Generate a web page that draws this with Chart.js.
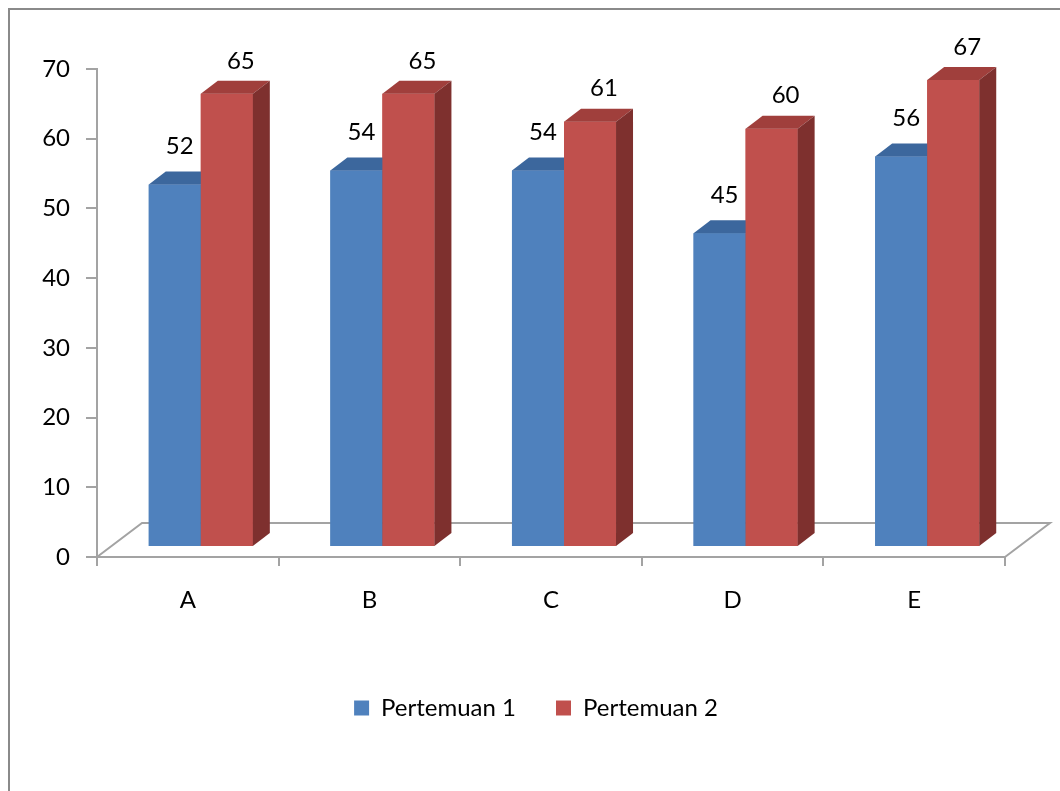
<!DOCTYPE html>
<html>
<head>
<meta charset="utf-8">
<title>Pertemuan 1 dan Pertemuan 2</title>
<script src="https://cdn.jsdelivr.net/npm/chart.js@4.4.1/dist/chart.umd.min.js"></script>
<style>
  html, body { margin: 0; padding: 0; background: #ffffff; }
  #wrap { position: relative; width: 1060px; height: 791px; }
</style>
</head>
<body>
<div id="wrap"><canvas id="chart"></canvas></div>
<script>
// Data
const categories = ['A', 'B', 'C', 'D', 'E'];
const pertemuan1 = [52, 54, 54, 45, 56];
const pertemuan2 = [65, 65, 61, 60, 67];
const yMin = 0;
const yMax = 70;
const yStep = 10;

// 3D look: bars sit a little behind the front edge of the floor
const SHIFT = { dx: 13, dy: -10 };   // bar plane offset from the axis plane
const DEPTH = { dx: 17, dy: -13 };   // bar depth
const FLOOR = { dx: 45, dy: -34 };   // floor depth
const LINE = '#a3a3a3';

const FONT = 'Lato, "Noto Sans", sans-serif';
Chart.defaults.font.family = FONT;
Chart.defaults.color = '#000000';

function drawFaces(ctx, ds, bar) {
  const p = bar.getProps(['x', 'y', 'base', 'width'], true);
  const l = p.x - p.width / 2, r = p.x + p.width / 2;
  // top face
  ctx.fillStyle = ds.topColor;
  ctx.beginPath();
  ctx.moveTo(l, p.y);
  ctx.lineTo(l + DEPTH.dx, p.y + DEPTH.dy);
  ctx.lineTo(r + DEPTH.dx, p.y + DEPTH.dy);
  ctx.lineTo(r, p.y);
  ctx.closePath();
  ctx.fill();
  // side face
  ctx.fillStyle = ds.sideColor;
  ctx.beginPath();
  ctx.moveTo(r, p.y);
  ctx.lineTo(r + DEPTH.dx, p.y + DEPTH.dy);
  ctx.lineTo(r + DEPTH.dx, p.base + DEPTH.dy);
  ctx.lineTo(r, p.base);
  ctx.closePath();
  ctx.fill();
}

const bars3d = {
  id: 'bars3d',
  beforeDraw(chart) {
    const ctx = chart.ctx;
    ctx.save();
    ctx.strokeStyle = '#8a8a8a';
    ctx.lineWidth = 2;
    ctx.beginPath();
    ctx.moveTo(9, chart.height + 10);
    ctx.lineTo(9, 9);
    ctx.lineTo(chart.width + 10, 9);
    ctx.stroke();
    ctx.restore();
  },
  beforeDatasetsDraw(chart) {
    const ctx = chart.ctx;
    const a = chart.chartArea;
    ctx.save();
    ctx.strokeStyle = LINE;
    ctx.lineWidth = 2;
    ctx.beginPath();
    ctx.moveTo(a.left, a.bottom);
    ctx.lineTo(a.left + FLOOR.dx, a.bottom + FLOOR.dy);
    ctx.lineTo(a.right + FLOOR.dx, a.bottom + FLOOR.dy);
    ctx.lineTo(a.right, a.bottom);
    ctx.stroke();
    ctx.restore();
    ctx.save();
    ctx.translate(SHIFT.dx, SHIFT.dy);
  },
  afterDatasetsDraw(chart) {
    const ctx = chart.ctx;
    // paint each category left to right so the right bar hides its neighbour's side
    chart.data.labels.forEach((_, j) => {
      chart.data.datasets.forEach((ds, i) => {
        const bar = chart.getDatasetMeta(i).data[j];
        bar.draw(ctx);
        drawFaces(ctx, ds, bar);
      });
    });
    ctx.restore();

    // value labels above the bars
    ctx.save();
    ctx.font = '24px ' + FONT;
    ctx.fillStyle = '#000000';
    ctx.textAlign = 'center';
    ctx.textBaseline = 'middle';
    chart.data.datasets.forEach((ds, i) => {
      const meta = chart.getDatasetMeta(i);
      meta.data.forEach((bar, j) => {
        const p = bar.getProps(['x', 'y'], true);
        ctx.fillText(String(ds.data[j]),
          p.x + SHIFT.dx + ds.labelShift.dx,
          p.y + SHIFT.dy + ds.labelShift.dy);
      });
    });
    ctx.restore();
  }
};

new Chart(document.getElementById('chart'), {
  type: 'bar',
  data: {
    labels: categories,
    datasets: [
      {
        label: 'Pertemuan 1',
        data: pertemuan1,
        backgroundColor: '#4F81BD',
        topColor: '#3c679d',
        sideColor: '#345a89',
        labelShift: { dx: 5, dy: -38 }
      },
      {
        label: 'Pertemuan 2',
        data: pertemuan2,
        backgroundColor: '#C0504D',
        topColor: '#a03f3c',
        sideColor: '#7e302e',
        labelShift: { dx: 14, dy: -33 }
      }
    ]
  },
  options: {
    responsive: true,
    maintainAspectRatio: false,
    animation: false,
    events: [],
    datasets: {
      bar: { barPercentage: 1, categoryPercentage: 0.573, borderWidth: 0, clip: false }
    },
    layout: { padding: { left: 12, right: 0, top: 69, bottom: 61 } },
    scales: {
      x: {
        grid: {
          offset: true,
          drawOnChartArea: false,
          drawTicks: true,
          tickLength: 9,
          color: LINE,
          lineWidth: 2
        },
        border: { display: true, color: LINE, width: 2 },
        ticks: { font: { size: 24 }, color: '#000000', padding: 20 },
        afterFit(s) { s.height = 99; }
      },
      y: {
        min: yMin,
        max: yMax,
        grid: {
          drawOnChartArea: false,
          drawTicks: true,
          tickLength: 11,
          color: LINE,
          lineWidth: 2
        },
        border: { display: true, color: LINE, width: 2 },
        ticks: { stepSize: yStep, font: { size: 24 }, color: '#000000', padding: 16 },
        afterFit(s) { s.width = 85; }
      },
      yRight: {
        position: 'right',
        grid: { display: false },
        border: { display: false },
        ticks: { display: false },
        afterFit(s) { s.width = 55; }
      }
    },
    plugins: {
      tooltip: { enabled: false },
      legend: {
        position: 'bottom',
        labels: {
          font: { size: 24 },
          color: '#000000',
          boxWidth: 15,
          boxHeight: 15,
          padding: 40
        }
      }
    }
  },
  plugins: [bars3d]
});
</script>
</body>
</html>
